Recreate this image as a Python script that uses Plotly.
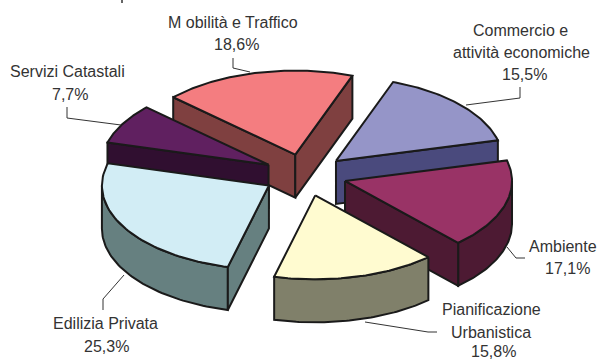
import numpy as np
import plotly.graph_objects as go

categories = ['Commercio e<br>attività economiche', 'Ambiente', 'Pianificazione<br>Urbanistica',
              'Edilizia Privata', 'Servizi Catastali', 'M obilità e Traffico']
values = [15.5, 17.1, 15.8, 25.3, 7.7, 18.6]
top_colors = ['#9595C8', '#993366', '#FFFBD0', '#D2EDF5', '#602060', '#F47D80']
side_colors = ['#4A4A7D', '#4D1A33', '#80806A', '#668080', '#300F30', '#7F4040']

# pie geometry in pixels, same as the paper size
cx, cy = 305, 175
rx, ry = 167, 84
depth = 43
explode = 0.25
start_angle = 20
edge = '#1a1a1a'

# back slices get painted first
draw_order = [5, 0, 4, 1, 3, 2]

# label centres, one list per slice, one entry per text line
label_x = [[520, 521, 524], [563, 567], [491, 491, 493], [105, 106], [67, 70], [233, 236]]
label_y = [[30, 52, 74], [246, 268], [309, 332, 351], [323, 346], [71, 94], [22, 44]]

leaders = [
    'M 520 87 L 520 98 L 466 105',
    'M 507 247 L 516 258 L 525 258',
    'M 365 322 L 428 332 L 437 332',
    'M 124 275 L 103 299 L 103 310',
    'M 67 107 L 67 118 L 121 125',
    'M 233 58 L 233 68 L 250 72',
]

fig = go.Figure()


def add_poly(xs, ys, fill):
    fig.add_trace(go.Scatter(x=xs, y=ys, mode='lines', fill='toself', fillcolor=fill,
                             line=dict(color=edge, width=2), hoverinfo='skip', showlegend=False))


spans = np.array(values) / sum(values) * 360
starts = start_angle + np.concatenate([[0], np.cumsum(spans)[:-1]])

for i in draw_order:
    a0 = np.radians(starts[i])
    a1 = np.radians(starts[i] + spans[i])
    mid = (a0 + a1) / 2
    ox = cx + explode * rx * np.sin(mid)
    oy = cy - explode * ry * np.cos(mid)

    t = np.linspace(a0, a1, 60)
    arc_x = ox + rx * np.sin(t)
    arc_y = oy - ry * np.cos(t)

    # rim, only the part facing the viewer
    front = np.linspace(max(a0, np.pi / 2), min(a1, 3 * np.pi / 2), 60)
    if a0 < 3 * np.pi / 2 and a1 > np.pi / 2:
        fx = ox + rx * np.sin(front)
        fy = oy - ry * np.cos(front)
        add_poly(np.r_[fx, fx[::-1], fx[0]], np.r_[fy, fy[::-1] + depth, fy[0]], side_colors[i])

    # radial walls
    if np.sin(a0) < 0:
        ex, ey = arc_x[0], arc_y[0]
        add_poly([ox, ex, ex, ox, ox], [oy, ey, ey + depth, oy + depth, oy], side_colors[i])
    if np.sin(a1) > 0:
        ex, ey = arc_x[-1], arc_y[-1]
        add_poly([ox, ex, ex, ox, ox], [oy, ey, ey + depth, oy + depth, oy], side_colors[i])

    add_poly(np.r_[ox, arc_x, ox], np.r_[oy, arc_y, oy], top_colors[i])

annotations = []
for i, name in enumerate(categories):
    pct = f'{values[i]:.1f}%'.replace('.', ',')
    lines = name.split('<br>') + [pct]
    for text, x, y in zip(lines, label_x[i], label_y[i]):
        annotations.append(dict(x=x, y=y, text=text, showarrow=False, xanchor='center', yanchor='middle',
                                borderpad=0,
                                font=dict(family='Liberation Sans', size=16, color='#333333')))

shapes = [dict(type='path', path=p, line=dict(color='#333333', width=1)) for p in leaders]
# bottom of the cut off title at the top edge
shapes.append(dict(type='path', path='M 122 0 L 122 3', line=dict(color='#333333', width=1.5)))

fig.update_layout(
    width=599, height=361,
    margin=dict(l=0, r=0, t=0, b=0),
    paper_bgcolor='white', plot_bgcolor='white',
    xaxis=dict(range=[0, 599], visible=False),
    yaxis=dict(range=[361, 0], visible=False),
    annotations=annotations,
    shapes=shapes,
)

fig.write_html("out.html", config=dict(displayModeBar=False), post_script="document.body.style.margin='0';")
